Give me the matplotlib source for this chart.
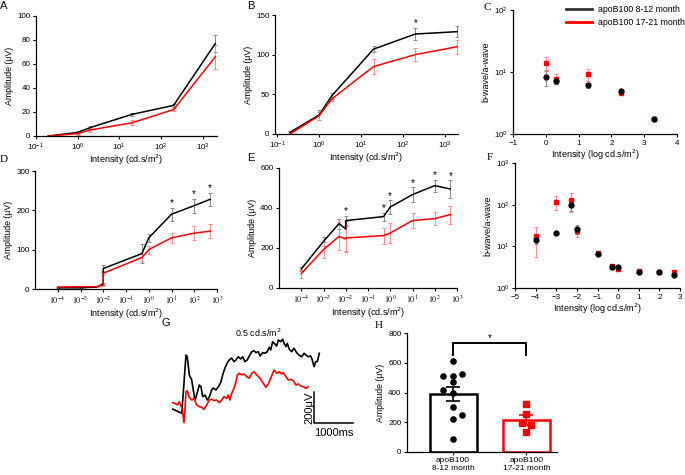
import matplotlib.pyplot as plt
from matplotlib.lines import Line2D
import numpy as np

W, H = 685, 475
plt.rcParams['font.family'] = ['Liberation Sans', 'DejaVu Sans']
plt.rcParams['font.size'] = 6

# ---------------- data ----------------
labels = ['apoB100 8-12 month', 'apoB100 17-21 month']

# A, B: photopic series
ab_x = [0.2, 1, 2, 20, 200, 2000]
a_young = [0, 3, 7, 18, 25.5, 77]
a_young_err = [0.5, 1, 1, 1.5, 1, 7]
a_old = [0, 2, 5, 11, 22, 66]
a_old_err = [0.5, 1, 1.5, 2, 1.5, 10]

b_young = [2, 24, 48, 107, 126, 129]
b_young_err = [2, 6, 4, 4, 8, 7]
b_old = [0, 23, 44, 85, 100, 110]
b_old_err = [1, 5, 3, 9, 8, 9]
b_sig = [4]

# C: b/a ratio, photopic
c_x = [0, 0.3, 1.3, 2.3, 3.3]
c_young = [8.2, 7.2, 6.1, 5.0, 1.72]
c_young_err = [2.2, 0.8, 0.5, 0.3, 0.05]
c_old = [14.2, 7.8, 9.2, 4.6, 1.72]
c_old_err = [3.5, 1.5, 2.0, 0.3, 0.05]

# D, E: scotopic series
de_x = [1e-4, 1e-3, 5e-3, 1e-2, 1e-2, 0.5, 1, 10, 100, 500]
d_young = [3, 3, 5, 13, 52, 90, 130, 190, 212, 228]
d_young_err = [1, 1, 1, 3, 8, 25, 10, 17, 18, 17]
d_old = [5, 6, 6, 10, 40, 80, 100, 130, 142, 147]
d_old_err = [1, 2, 1, 3, 5, 10, 10, 13, 17, 17]
d_sig = [7, 8, 9]

e_young = [95, 233, 322, 295, 337, 357, 405, 467, 512, 495]
e_young_err = [8, 22, 25, 40, 25, 20, 35, 37, 30, 45]
e_old = [72, 192, 258, 245, 250, 262, 275, 337, 347, 367]
e_old_err = [20, 40, 70, 65, 65, 40, 48, 37, 33, 45]
e_sig = [4, 5, 6, 7, 8, 9]

# F: b/a ratio, scotopic
f_x = [-4, -3, -2.3, -2, -1, -0.3, 0, 1, 2, 2.7]
f_young = [14.5, 21, 100, 26, 6.6, 3.2, 3.2, 2.45, 2.45, 2.1]
f_young_err = [3, 1, 30, 6, 0.5, 0.3, 0.3, 0.2, 0.2, 0.15]
f_old = [17.5, 116, 127, 23, 7, 3.3, 2.8, 2.6, 2.45, 2.45]
f_old_err = [12, 42, 60, 6, 0.8, 0.3, 0.3, 0.2, 0.2, 0.2]

# G: example traces at 0.5 cd.s/m2 (time ms, amplitude uV)
g_young_t = [0, 231, 272, 341, 374, 426, 487, 528, 572, 615, 682, 726, 769, 828, 887,
             938, 1000, 1041, 1110, 1169, 1231, 1282, 1341, 1400, 1451, 1513, 1572, 1623,
             1682, 1744, 1795, 1854, 1913, 1964, 2026, 2085, 2136, 2195, 2238, 2308, 2367,
             2426, 2477, 2513, 2564, 2605, 2667, 2708, 2769, 2821, 2854, 2905, 2938, 2990,
             3051, 3110, 3179, 3238, 3308, 3367, 3418, 3477, 3538, 3579, 3623, 3667, 3708, 3759]
g_young_v = [6, -21, 108, 348, 337, 222, 190, 127, 63, 95, 158, 147, 84, 95, 63,
             82, 127, 139, 127, 147, 173, 222, 266, 298, 317, 329, 306, 317,
             337, 323, 337, 306, 317, 342, 369, 375, 363, 369, 342, 363, 359,
             369, 397, 380, 432, 422, 405, 443, 432, 448, 422, 401, 422, 384,
             369, 391, 363, 348, 337, 359, 348, 337, 342, 317, 274, 306, 306, 359]
g_old_t = [0, 59, 118, 169, 205, 246, 290, 315, 341, 374, 426, 487, 546, 615, 682,
           744, 803, 872, 938, 1000, 1059, 1128, 1195, 1256, 1315, 1385, 1426, 1469,
           1513, 1572, 1623, 1656, 1708, 1769, 1828, 1897, 1964, 2026, 2085, 2154, 2238,
           2323, 2392, 2451, 2513, 2564, 2605, 2667, 2733, 2795, 2836, 2905, 2964, 3026,
           3092, 3162, 3221, 3282, 3349, 3418, 3477]
g_old_v = [46, 42, 32, 53, 32, 0, -80, 0, 116, 122, 80, 63, 74, 32, 21,
           17, 4, 32, 63, 68, 59, 63, 46, 63, 84, 74, 95, 63,
           106, 137, 179, 222, 232, 222, 228, 211, 201, 232, 242, 222, 201,
           169, 144, 165, 201, 232, 253, 232, 242, 228, 236, 211, 190, 194,
           185, 158, 165, 152, 147, 137, 147]

# H: individual amplitudes
h_young = [609, 508, 508, 524, 468, 419, 397, 300, 249, 222, 87]
h_young_jit = [0, -0.14, 0, 0.12, 0, -0.14, 0, 0, 0.12, 0, 0]
h_old = [325, 258, 195, 179, 132]
h_old_jit = [0, 0, -0.06, 0.065, 0]
h_names = ['apoB100\n8-12 month', 'apoB100\n17-21 month']

RED = '#ff0000'
RED_E = '#ff8a8a'
GRAY_E = '#8a8a8a'


def box(l, t, r, b):
    return [l / W, 1 - b / H, (r - l) / W, (b - t) / H]


def style(ax):
    for s in ['top', 'right']:
        ax.spines[s].set_visible(False)
    for s in ['left', 'bottom']:
        ax.spines[s].set_linewidth(0.9)
    ax.tick_params(labelsize=5.8, width=0.8, length=2.5, pad=1.5)


def curves(ax, x, y1, e1, y2, e2):
    ax.errorbar(x, y1, yerr=e1, color='black', ecolor=GRAY_E, lw=1.1,
                elinewidth=0.7, capsize=1.5, capthick=0.7)
    ax.errorbar(x, y2, yerr=e2, color=RED, ecolor=RED_E, lw=1.1,
                elinewidth=0.7, capsize=1.5, capthick=0.7)


def stars(ax, x, y, err, idx, ymax):
    for i in idx:
        ax.text(x[i], y[i] + err[i] + 0.035 * ymax, '*', ha='center',
                va='center', fontsize=7)


def ratio(ax, x, y1, e1, y2, e2):
    ax.errorbar(x, y2, yerr=e2, fmt='s', color=RED, ecolor=RED_E, ms=3.5,
                elinewidth=0.7, capsize=1.5, capthick=0.7)
    ax.errorbar(x, y1, yerr=e1, fmt='o', color='black', ecolor=GRAY_E, ms=3.5,
                elinewidth=0.7, capsize=1.5, capthick=0.7)
    ax.set_yscale('log')
    ax.minorticks_off()
    ax.set_ylabel('b-wave/a-wave', fontsize=6.5, labelpad=2)
    ax.set_xlabel('Intensity (log cd.s/m$^2$)', fontsize=6.5, labelpad=1)


fig = plt.figure(figsize=(W / 100, H / 100), dpi=100)

# ---- A ----
ax = fig.add_axes(box(36, 16, 217, 136))
style(ax)
curves(ax, ab_x, a_young, a_young_err, a_old, a_old_err)
ax.set_xscale('log')
ax.set_xlim(0.1, 2200)
ax.set_xticks([0.1, 1, 10, 100, 1000])
ax.minorticks_off()
ax.set_ylim(0, 100)
ax.set_yticks([0, 20, 40, 60, 80, 100])
ax.set_ylabel('Amplitude (μV)', fontsize=6.3, labelpad=2)
ax.set_xlabel('Intensity (cd.s/m$^2$)', fontsize=6.5, labelpad=-0.5)

# ---- B ----
ax = fig.add_axes(box(275, 15, 458, 134))
style(ax)
curves(ax, ab_x, b_young, b_young_err, b_old, b_old_err)
stars(ax, ab_x, b_young, b_young_err, b_sig, 150)
ax.set_xscale('log')
ax.set_xlim(0.088, 2100)
ax.set_xticks([0.1, 1, 10, 100, 1000])
ax.minorticks_off()
ax.set_ylim(0, 150)
ax.set_yticks([0, 50, 100, 150])
ax.set_ylabel('Amplitude (μV)', fontsize=6.3, labelpad=2)
ax.set_xlabel('Intensity (cd.s/m$^2$)', fontsize=6.5, labelpad=-0.5)

# ---- C ----
ax = fig.add_axes(box(513, 10, 677, 134))
style(ax)
ratio(ax, c_x, c_young, c_young_err, c_old, c_old_err)
ax.set_xlim(-1, 4)
ax.set_xticks(range(-1, 5))
ax.set_ylim(1, 100)
ax.set_yticks([1, 10, 100])
hd = [Line2D([], [], color='#333333', lw=2), Line2D([], [], color=RED, lw=2)]
fig.legend(hd, labels, loc='upper left', bbox_to_anchor=(566 / W, 1 - 5 / H),
           frameon=False, fontsize=6.3, handlelength=3.0, handletextpad=0.6,
           labelspacing=0.45, borderpad=0, borderaxespad=0)

# ---- D ----
dec = [1e-4, 1e-3, 1e-2, 1e-1, 1, 10, 100, 1000]
dec_labels = [r'$10^{%d}$' % p for p in range(-4, 4)]

ax = fig.add_axes(box(35, 171, 217, 289))
style(ax)
curves(ax, de_x, d_young, d_young_err, d_old, d_old_err)
stars(ax, de_x, d_young, d_young_err, d_sig, 300)
ax.set_xscale('log')
ax.set_xlim(1e-5, 1e3)
ax.set_xticks(dec, dec_labels, math_fontfamily='stix', fontsize=5.8)
ax.minorticks_off()
ax.set_ylim(0, 300)
ax.set_yticks([0, 100, 200, 300])
ax.set_ylabel('Amplitude (μV)', fontsize=6.3, labelpad=2)
ax.set_xlabel('Intensity (cd.s/m$^2$)', fontsize=6.5, labelpad=-0.3)

# ---- E ----
ax = fig.add_axes(box(279, 168, 457, 288))
style(ax)
curves(ax, de_x, e_young, e_young_err, e_old, e_old_err)
stars(ax, de_x, e_young, e_young_err, e_sig, 600)
ax.set_xscale('log')
ax.set_xlim(1e-5, 1e3)
ax.set_xticks(dec, dec_labels, math_fontfamily='stix', fontsize=5.8)
ax.minorticks_off()
ax.set_ylim(0, 600)
ax.set_yticks([0, 200, 400, 600])
ax.set_ylabel('Amplitude (μV)', fontsize=6.3, labelpad=2)
ax.set_xlabel('Intensity (cd.s/m$^2$)', fontsize=6.5, labelpad=-0.3)

# ---- F ----
ax = fig.add_axes(box(515, 163, 680, 288))
style(ax)
ratio(ax, f_x, f_young, f_young_err, f_old, f_old_err)
ax.set_xlim(-5, 3)
ax.set_xticks(range(-5, 4))
ax.set_ylim(1, 1000)
ax.set_yticks([1, 10, 100, 1000])

# ---- G ----
ax = fig.add_axes(box(165, 325, 365, 440))
ax.plot(g_young_t, g_young_v, color='black', lw=1.2)
ax.plot(g_old_t, g_old_v, color=RED, lw=1.2)
ax.plot([3631, 3631, 4631], [116, -84, -84], color='black', lw=1.1)
ax.text(3502, 16, '200μV', rotation=90, ha='center', va='center', fontsize=8)
ax.text(4131, -146, '1000ms', ha='center', va='center', fontsize=8)
ax.text(2187, 487, '0.5 cd.s/m$^2$', ha='center', va='center', fontsize=6.4)
ax.set_xlim(-197, 4931)
ax.set_ylim(-190, 538)
ax.axis('off')

# ---- H ----
ax = fig.add_axes(box(407, 333, 557, 452))
style(ax)
means = [np.mean(h_young), np.mean(h_old)]
sems = [np.std(h_young, ddof=1) / np.sqrt(len(h_young)),
        np.std(h_old, ddof=1) / np.sqrt(len(h_old))]
ax.bar([0, 1], means, width=0.64, color='white', edgecolor=['black', RED],
       linewidth=1.8, zorder=1)
for i, c in enumerate(['black', RED]):
    ax.errorbar(i, means[i], yerr=sems[i], color=c, elinewidth=1.2,
                capsize=5, capthick=1.2, zorder=2)
ax.scatter(np.array(h_young_jit), h_young, s=14, color='black', marker='o', zorder=3)
ax.scatter(1 + np.array(h_old_jit), h_old, s=14, color=RED, marker='s', zorder=3)
ax.plot([0, 0, 1, 1], [654, 733, 733, 654], color='black', lw=1.4)
ax.text(0.5, 765, '*', ha='center', va='center', fontsize=7)
ax.set_xlim(-0.63, 1.42)
ax.set_xticks([0, 1], h_names, fontsize=6, linespacing=1.15)
ax.tick_params(axis='x', pad=1)
ax.set_ylim(0, 800)
ax.set_yticks([0, 200, 400, 600, 800])
ax.set_ylabel('Amplitude (μV)', fontsize=6.3, labelpad=2)

# ---- panel letters ----
sans = ['Liberation Sans', 'DejaVu Sans']
serif = ['Liberation Serif', 'DejaVu Serif']
for lab, x, y, fam in [('A', 0, 6, sans), ('B', 247, 6, sans), ('C', 484, 7, serif),
                       ('D', 0, 160, serif), ('E', 247, 158, sans), ('F', 487, 157, serif),
                       ('G', 162, 323, sans), ('H', 375, 325, serif)]:
    fig.text(x / W, 1 - y / H, lab, ha='left', va='center', fontsize=8, family=fam)

fig.savefig('out.png', dpi=100)
